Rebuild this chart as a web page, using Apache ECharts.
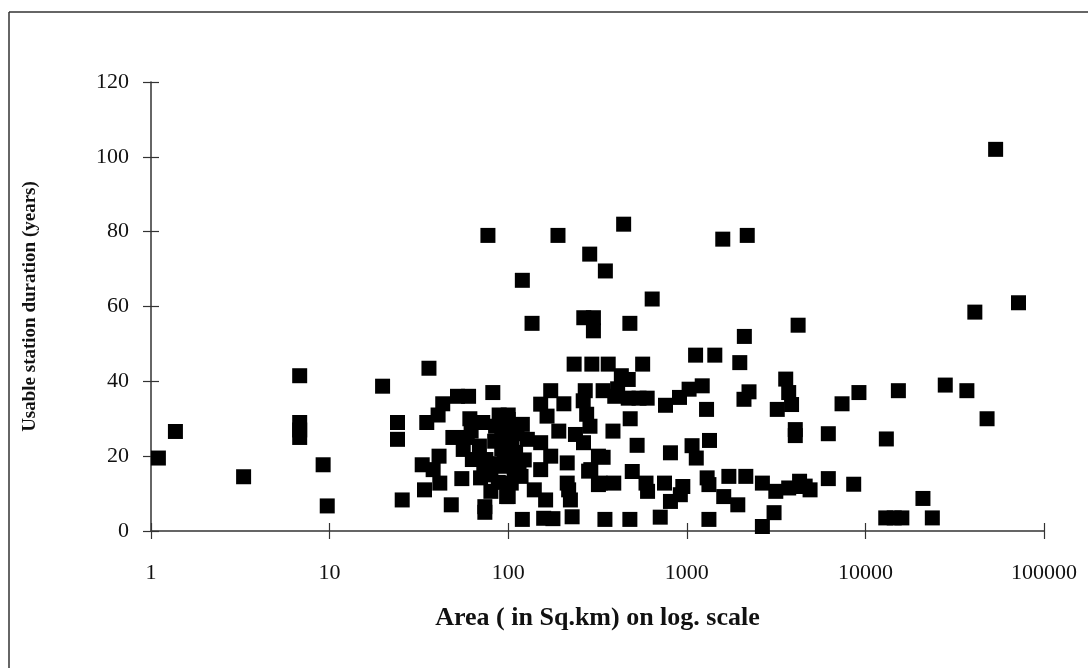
<!DOCTYPE html>
<html>
<head>
<meta charset="utf-8">
<script src="https://cdn.jsdelivr.net/npm/echarts@6/dist/echarts.min.js"></script>
<style>
html,body{margin:0;padding:0;background:#fff;}
#chart{width:1088px;height:670px;}
</style>
</head>
<body>
<div id="chart"></div>
<script>
// Area (sq.km) values
const areaValues = [
  1.1,1.37,3.3,6.8,6.8,6.8,6.8,9.2,9.7,19.8,24,24,25.5,
  36,82,52,60,43,40.5,35,61,72,89,49,59,56,69,63,75,41,33,38,41.4,34,48,55,70,80,74,74,80,98,93,92,92,85,62,73,
  100,105,110,97,108,88,95,84,112,100,115,87,
  234,294,173,270,152,205,263,275,287,165,120,100,192,238,264,152,128,104,100,123,173,214,152,118,104,100,140,162,214,223,218,282,320,320,120,158,178,228,
  77,190,443,286,350,120,640,136,265,300,300,480,1590,2180,2100,53600,4200,41000,72000,
  9200,7400,15300,28000,37000,48000,13100,6200,6200,8600,21000,13000,14500,16000,23700,4600,4900,
  1120,1435,1980,363,566,430,470,410,395,470,540,600,340,760,910,1030,1220,1290,2090,2230,3580,3720,3860,3210,4050,4050,482,386,527,340,290,810,1070,1340,1130,495,591,603,327,390,750,950,810,920,710,348,480,1330,1300,1720,2140,1330,1610,1930,2650,3150,3720,4440,3080,2650,4280
];
// Usable station duration (years)
const durationValues = [
  19.5,26.6,14.5,41.5,29,27,25,17.7,6.7,38.7,29,24.5,8.3,
  43.5,37,36,36,34,31,29,30,29,31,25,25,21.8,22.7,19.1,19.1,20,17.7,16.4,12.8,11,7,14,14.2,15,6.5,5,10.6,9.2,17.3,22,25.4,28,26.7,17,
  27,24,21,19.5,16,13,20,24,26,31,18,18,
  44.6,44.6,37.5,37.5,33.9,34,34.8,31.2,28,30.7,28.5,29.8,26.7,25.8,23.6,23.6,24.5,23.6,19,19,20,18.2,16.4,14.6,12.8,9.2,11,8.3,12.8,8.3,11,16,20,12.4,3.1,3.4,3.3,3.8,
  79,79,82,74,69.5,67,62,55.5,57,57,53.5,55.5,78,79,52,102,55,58.5,61,
  37,34,37.5,39,37.5,30,24.6,26,14,12.5,8.7,3.5,3.5,3.5,3.5,12,11,
  47,47,45,44.6,44.6,41.5,40.5,38,36,35.5,35.5,35.5,37.5,33.6,35.7,37.9,38.8,32.5,35.2,37.2,40.6,37,33.8,32.5,27.1,25.5,30,26.7,22.9,19.7,16.4,20.9,22.8,24.2,19.5,15.9,12.8,10.6,12.8,12.8,12.8,11.9,7.9,9.7,3.7,3.1,3.1,3.1,14.2,14.6,14.6,12.4,9.2,7,12.8,10.6,11.5,11.9,4.9,1.2,13.3
];
const xTickLabels = ['1','10','100','1000','10000','100000'];
const yTickLabels = ['0','20','40','60','80','100','120'];

const points = areaValues.map((a, i) => [a, durationValues[i]]);
const FONT = '"Liberation Serif","Times New Roman",serif';
const axisColor = '#333';

const chart = echarts.init(document.getElementById('chart'), null, {renderer: 'canvas'});
chart.setOption({
  backgroundColor: '#fff',
  animation: false,
  grid: {left: 151, right: 44, top: 82, bottom: 139},
  xAxis: [{
    type: 'log', logBase: 10, min: 1, max: 100000,
    name: 'Area ( in Sq.km) on log. scale',
    nameLocation: 'middle', nameGap: 74,
    nameTextStyle: {fontFamily: FONT, fontSize: 26, fontWeight: 'bold', color: '#111'},
    axisLine: {show: true, lineStyle: {color: axisColor, width: 1.5}},
    axisTick: {show: true, inside: false, length: 8, lineStyle: {color: axisColor, width: 1.2}},
    minorTick: {show: false},
    splitLine: {show: false},
    axisLabel: {
      margin: 31, fontFamily: FONT, fontSize: 22, color: '#111',
      formatter: v => { const i = Math.round(Math.log10(v)); return xTickLabels[i] !== undefined ? xTickLabels[i] : ''; }
    }
  }, {
    type: 'log', logBase: 10, min: 1, max: 100000, position: 'bottom',
    axisLine: {show: false},
    axisTick: {show: true, inside: true, length: 8, lineStyle: {color: axisColor, width: 1.2}},
    axisLabel: {show: false}, splitLine: {show: false}
  }],
  yAxis: [{
    type: 'value', min: 0, max: 120, interval: 20,
    name: 'Usable station duration (years)',
    nameLocation: 'middle', nameGap: 111, nameRotate: 90,
    nameTextStyle: {fontFamily: FONT, fontSize: 19, fontWeight: 'bold', color: '#111'},
    axisLine: {show: true, lineStyle: {color: axisColor, width: 1.5}},
    axisTick: {show: true, inside: false, length: 8, lineStyle: {color: axisColor, width: 1.2}},
    splitLine: {show: false},
    axisLabel: {
      margin: 22, fontFamily: FONT, fontSize: 22, color: '#111',
      formatter: v => yTickLabels[Math.round(v / 20)]
    }
  }, {
    type: 'value', min: 0, max: 120, interval: 20, position: 'left',
    axisLine: {show: false},
    axisTick: {show: true, inside: true, length: 8, lineStyle: {color: axisColor, width: 1.2}},
    axisLabel: {show: false}, splitLine: {show: false}
  }],
  series: [{
    type: 'scatter',
    xAxisIndex: 0, yAxisIndex: 0,
    symbol: 'rect', symbolSize: 15,
    itemStyle: {color: '#000', opacity: 1},
    data: points
  }],
  graphic: [
    {type: 'line', shape: {x1: 9, y1: 12, x2: 1088, y2: 12}, style: {stroke: '#333', lineWidth: 1.5}},
    {type: 'line', shape: {x1: 9, y1: 12, x2: 9, y2: 668}, style: {stroke: '#333', lineWidth: 1.5}}
  ]
});
</script>
</body>
</html>
